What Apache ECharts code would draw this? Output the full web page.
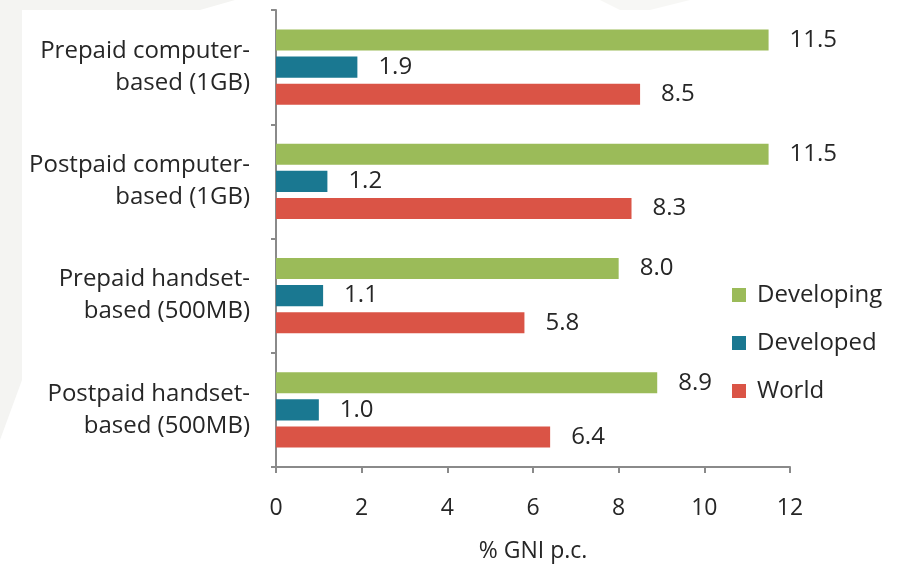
<!DOCTYPE html>
<html>
<head>
<meta charset="utf-8">
<script src="https://cdn.jsdelivr.net/npm/echarts@6/dist/echarts.min.js"></script>
<style>
  html, body { margin: 0; padding: 0; background: #ffffff; }
  #chart { width: 902px; height: 564px; }
</style>
</head>
<body>
<div id="chart"></div>
<script>
// Mobile broadband price, % of GNI per capita
var categories = [
  'Prepaid computer-\nbased (1GB)',
  'Postpaid computer-\nbased (1GB)',
  'Prepaid handset-\nbased (500MB)',
  'Postpaid handset-\nbased (500MB)'
];
var developing = [11.5, 11.5, 8.0, 8.9];
var developed = [1.9, 1.2, 1.1, 1.0];
var world = [8.5, 8.3, 5.8, 6.4];
var xTicks = [0, 2, 4, 6, 8, 10, 12];

var FONT = '"Open Sans", sans-serif';
var TEXT = '#262626';
var AXIS = '#8a8a8a';

function barSeries(name, data, color) {
  return {
    name: name,
    type: 'bar',
    data: data,
    barGap: '28%',
    barCategoryGap: '34%',
    itemStyle: { color: color },
    label: {
      show: true,
      position: 'right',
      distance: 21,
      color: TEXT,
      fontFamily: FONT,
      fontSize: 24,
      formatter: function (p) { return p.value.toFixed(1); }
    }
  };
}

var chart = echarts.init(document.getElementById('chart'), null, { renderer: 'canvas' });
chart.setOption({
  backgroundColor: '#ffffff',
  animation: false,
  graphic: [{
    type: 'polygon',
    z: -10,
    shape: { points: [[0, 0], [235, 0], [200, 10], [22, 10], [22, 380], [0, 440]] },
    style: { fill: '#f4f4f2' }
  }, {
    type: 'polygon',
    z: -10,
    shape: { points: [[600, 0], [690, 0], [650, 10], [620, 10]] },
    style: { fill: '#f7f7f5' }
  }],
  grid: {
    left: 276, right: 112, top: 10, bottom: 97,
    containLabel: false,
    outerBoundsMode: 'none'
  },
  legend: {
    orient: 'vertical',
    left: 727,
    top: 278,
    itemGap: 24,
    itemWidth: 14,
    itemHeight: 14,
    icon: 'rect',
    textStyle: { color: TEXT, fontFamily: FONT, fontSize: 24, padding: [0, 0, 0, 6] },
    data: ['Developing', 'Developed', 'World']
  },
  xAxis: {
    type: 'value',
    min: xTicks[0],
    max: xTicks[xTicks.length - 1],
    interval: 2,
    name: '% GNI p.c.',
    nameLocation: 'middle',
    nameGap: 73,
    nameTextStyle: { color: TEXT, fontFamily: FONT, fontSize: 23 },
    axisLine: { show: true, lineStyle: { color: AXIS, width: 2 } },
    axisTick: { show: true, length: 6, lineStyle: { color: AXIS, width: 2 } },
    axisLabel: { color: TEXT, fontFamily: FONT, fontSize: 23, margin: 30 },
    splitLine: { show: false }
  },
  yAxis: {
    type: 'category',
    data: categories,
    inverse: true,
    axisLine: { show: true, lineStyle: { color: AXIS, width: 2 } },
    axisTick: { show: true, length: 5, alignWithLabel: false, lineStyle: { color: AXIS, width: 2 } },
    axisLabel: {
      color: TEXT,
      fontFamily: FONT,
      fontSize: 24,
      lineHeight: 32,
      margin: 26,
      align: 'right'
    }
  },
  series: [
    barSeries('Developing', developing, '#9bbb59'),
    barSeries('Developed', developed, '#1a7891'),
    barSeries('World', world, '#da5446')
  ]
});
</script>
</body>
</html>
